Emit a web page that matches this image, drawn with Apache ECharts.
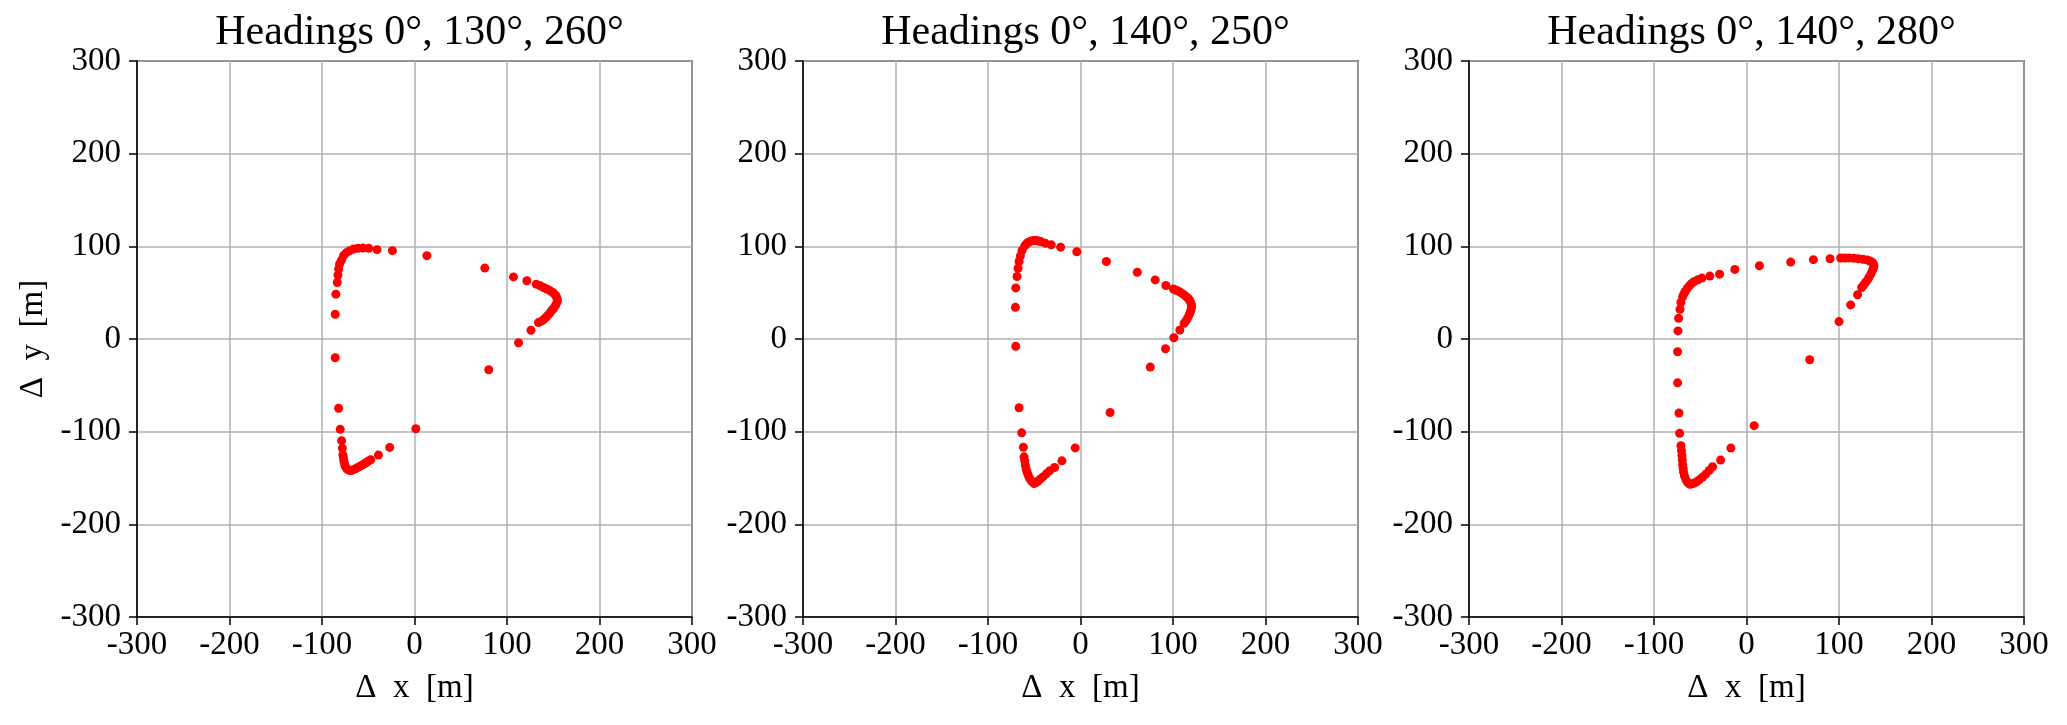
<!DOCTYPE html>
<html>
<head>
    <meta charset="utf-8">
    <title>Headings</title>
    <script src="https://cdn.jsdelivr.net/npm/echarts@6/dist/echarts.min.js"></script>
    <style>
        html, body { margin: 0; padding: 0; background: #fff; }
    </style>
</head>
<body>
    <div id="main" style="width: 2067px;height:725px;"></div>
    <script type="text/javascript">
        // panel titles
        var titles = ['Headings 0°, 130°, 260°', 'Headings 0°, 140°, 250°', 'Headings 0°, 140°, 280°'];
        // axis range / ticks
        var axisMin = -300, axisMax = 300, axisStep = 100;

        // [dx, dy] in metres
        var track130 = [
            [-85.7, 26.7], [-85, 48.4], [-83.5, 61], [-82.8, 69], [-82, 75.5], [-81, 81], [-79, 85],
            [-76.7, 90], [-73.8, 93], [-70, 95.3], [-66, 97], [-61, 97.8], [-55.7, 98.2], [-49.5, 97.8],
            [-40.5, 96.4], [-23.9, 95.3], [13.4, 89.9], [76, 76.5], [107, 67], [121.5, 62.8],
            [131.6, 59.2], [136, 57.5], [139.5, 55.6], [143, 54], [146.8, 52], [149.5, 50.2], [151.5, 48.4],
            [153, 46.5], [154, 44], [154.5, 41.5], [154, 39.4], [152.5, 36.5], [150.5, 33.2], [148.5, 31],
            [146.8, 28.5], [144.5, 26], [142.5, 23.8], [140, 21.5], [137.8, 19.5], [134, 17.7], [125.9, 9.4],
            [112.5, -4], [80.3, -33.2],
            [-85.7, -20.2], [-82, -74.7], [-80.3, -97.5], [-78.8, -109.7], [-78, -117.7], [-77.4, -125],
            [-76.8, -128.5], [-76.3, -132], [-75.6, -135], [-74.9, -137.5], [-73.5, -139.5], [-72, -141],
            [-70.2, -141.7], [-68.4, -141.9], [-66, -141], [-63.7, -140], [-61.5, -138.8], [-59.3, -137.5],
            [-57, -136.2], [-54.6, -135], [-52.5, -133.5], [-50.3, -132], [-47.4, -130.3], [-39, -125.3],
            [-26.8, -117], [1.4, -96.8]
        ];
        var track140a = [
            [-70.4, 34.2], [-70, 55.1], [-68.6, 67.4], [-67.5, 76.4], [-66.4, 83.6], [-65, 89.7],
            [-63.2, 95.5], [-60.3, 100.5], [-58.5, 102.5], [-56.7, 104.1], [-54.5, 105.2], [-52.4, 106],
            [-50, 106.3], [-47.8, 106.3], [-45.5, 105.8], [-43.1, 105.2], [-38.1, 103.4], [-31.6, 101.6],
            [-21.5, 99.1], [-4, 94.1], [28, 83.6], [61.4, 72], [80.8, 63.8], [92.3, 57.7], [100.5, 54],
            [103.5, 52.6], [106.6, 51.2], [109.5, 49.5], [112, 47.6], [114.3, 45.8], [116.3, 44],
            [118, 41.5], [119.2, 39.3], [120, 36.8], [120, 34.2], [119.5, 31.5], [118.5, 28.5], [117.2, 25.5],
            [115.6, 22.3], [114, 19.5], [112, 16.9], [107.4, 9.7], [100.9, 1.4], [91.9, -10.5],
            [75.4, -30.3], [32, -79.3],
            [-70, -7.9], [-66.4, -74.2], [-63.6, -101.3], [-61.8, -116.8], [-61, -127.2], [-60.3, -131.5],
            [-59.6, -136.2], [-58.8, -140], [-57.8, -143.4], [-56.5, -147], [-54.9, -150.6], [-52.8, -153.5],
            [-50.3, -156], [-48, -154.8], [-46, -153.2], [-43.3, -151], [-40.6, -148.8], [-37, -145.5],
            [-33.4, -142.3], [-28, -138.7], [-20.1, -131.5], [-5.7, -117.5]
        ];
        var track140b = [
            [-74.1, 8.7], [-73.4, 22.4], [-71.9, 32.1], [-70.9, 39.4], [-69.1, 45.5], [-67.8, 48.5],
            [-66.2, 51.3], [-64, 54.5], [-61.9, 57.4], [-59.2, 60], [-56.5, 62.1], [-52.5, 64], [-48.2, 65.7],
            [-39.6, 67.9], [-29.1, 70], [-12.6, 75.1], [14, 79.1], [47.8, 83], [72.3, 85.6], [90.3, 86.6],
            [101.8, 87.4], [106, 87.4], [110.8, 87.4], [116, 87.2], [120.9, 86.6], [126, 86], [130.6, 85.2],
            [133.5, 84.2], [136, 82.7], [137.2, 81], [137.8, 79.1], [137.2, 76.5], [136, 73.6], [134.3, 70],
            [132.4, 66.4], [130.6, 63.6], [128.8, 61], [126.6, 58.3], [124.5, 55.6], [120.1, 47.7],
            [112.6, 36.8], [100, 18.8], [68.3, -22.4],
            [-74.5, -13.7], [-74.5, -47.3], [-73, -79.8], [-72.3, -101.8], [-70.9, -115.2], [-70.3, -120.5],
            [-69.8, -125.6], [-69.4, -130.5], [-69, -135.7], [-68.5, -139.7], [-68, -143.7], [-67, -148],
            [-65.5, -152], [-63.5, -154.8], [-61.2, -156.7], [-58.8, -156.3], [-56.5, -155.6], [-53.8, -154],
            [-51.1, -152], [-47.5, -149], [-43.9, -145.8], [-40.3, -141.8], [-36.7, -137.9], [-28, -130.7],
            [-16.9, -117.7], [8.3, -93.5]
        ];
        var tracks = [track130, track140a, track140b];

        var myChart = echarts.init(document.getElementById('main'));

        var font = '"Liberation Serif", "Times New Roman", serif';
        var lefts = [137, 803, 1469];
        var grids = [], xAxes = [], yAxes = [], series = [], titleOpts = [];

        for (var i = 0; i < 3; i++) {
            grids.push({
                left: lefts[i], top: 61, width: 555, height: 556,
                show: true, borderColor: '#000', borderWidth: 1.5, backgroundColor: 'transparent'
            });
            titleOpts.push({
                text: titles[i],
                left: lefts[i] + 277.5, top: 7, textAlign: 'center',
                textStyle: { fontFamily: font, fontSize: 42, fontWeight: 'normal', color: '#000' }
            });
            var common = {
                type: 'value', gridIndex: i,
                min: axisMin, max: axisMax, interval: axisStep,
                axisLine: { show: true, onZero: false, lineStyle: { color: '#000', width: 1.5 } },
                axisTick: { show: true, inside: false, length: 8, lineStyle: { color: '#000', width: 1.5 } },
                splitLine: { show: true, lineStyle: { color: '#b0b0b0', width: 1.5 } },
                axisLabel: { fontFamily: font, fontSize: 33, color: '#000' },
                nameTextStyle: { fontFamily: font, fontSize: 33, color: '#000' }
            };
            // en spaces mimic the wider LaTeX spacing
            xAxes.push(Object.assign({}, common, {
                position: 'bottom',
                name: 'Δ\u2002x\u2002[m]', nameLocation: 'middle', nameGap: 55,
                axisLabel: Object.assign({}, common.axisLabel, { margin: 12 })
            }));
            yAxes.push(Object.assign({}, common, {
                position: 'left',
                name: i === 0 ? 'Δ\u2002y\u2002[m]' : '', nameLocation: 'middle', nameGap: 87,
                axisLabel: Object.assign({}, common.axisLabel, { margin: 16 })
            }));
            series.push({
                type: 'scatter', xAxisIndex: i, yAxisIndex: i,
                symbol: 'circle', symbolSize: 9,
                itemStyle: { color: '#ff0000', opacity: 1 },
                data: tracks[i]
            });
        }

        var option = {
            animation: false,
            title: titleOpts,
            grid: grids,
            xAxis: xAxes,
            yAxis: yAxes,
            series: series
        };
        myChart.setOption(option);
    </script>
</body>
</html>
